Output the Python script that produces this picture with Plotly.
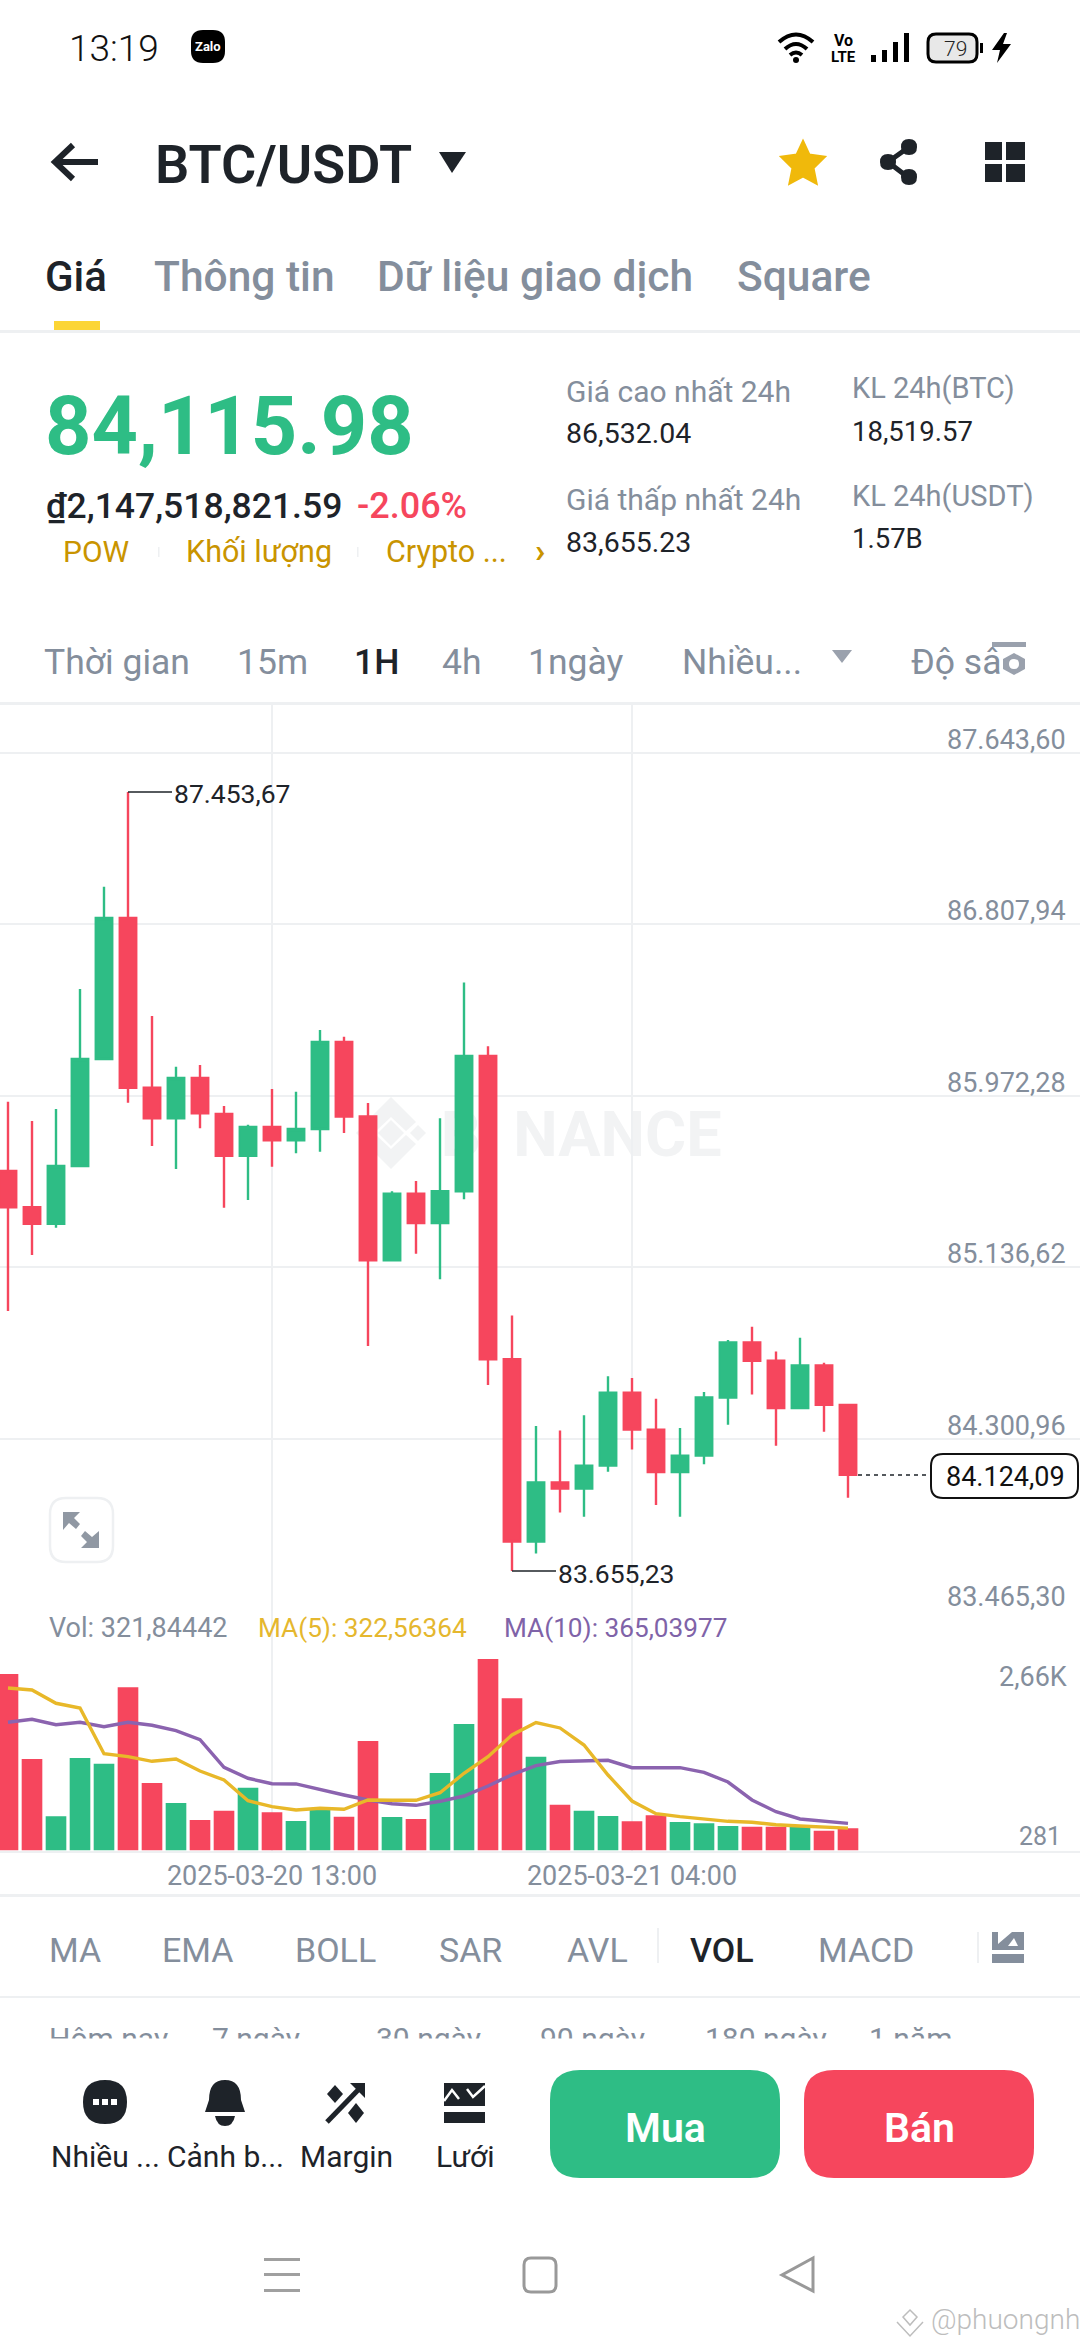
import re
import pandas as pd
import plotly.graph_objects as go

W, H = 1080, 2340
GREEN = "#2EBD85"
RED = "#F6465D"
DARK = "#1E2329"
GRAY = "#848E9C"
LINE = "#EEF0F2"
GOLD = "#C99400"
FONT = "Roboto"

# candles, hourly
first_time = "2025-03-20 02:00"
opens = [85605.6, 85428.7, 85348.7, 85630.0, 86151.7, 86839.1, 86011.8, 85862.6, 86059.1, 85883.5, 85680.2, 85820.2,
         85755.3, 85810.4, 86234.6, 85871.4, 85170.3, 85495.0, 85352.1, 85506.7, 86166.3, 84687.6, 83799.3, 84086.9,
         84057.2, 84169.3, 84524.3, 84344.8, 84137.6, 84218.1, 84501.3, 84769.5, 84680.8, 84450.2, 84657.9, 84465.3]
highs = [85943.5, 85849.4, 85907.9, 86493.0, 86991.8, 87453.67, 86361.3, 86114.2, 86122.4, 85922.6, 85831.4, 86005.4,
         85992.3, 86293.1, 86260.4, 85937.2, 85506.7, 85556.9, 85862.6, 86524.7, 86213.6, 84900.6, 84362.4, 84340.5,
         84414.6, 84604.7, 84596.4, 84495.0, 84353.1, 84528.7, 84782.2, 84846.0, 84725.1, 84792.9, 84670.5, 84469.7]
lows = [84923.1, 85196.1, 85329.2, 85630.0, 86151.7, 85938.6, 85727.5, 85615.4, 85813.8, 85426.7, 85464.3, 85626.6,
        85691.9, 85699.7, 85790.9, 84752.4, 85165.4, 85202.5, 85077.6, 85467.7, 84562.3, 83655.23, 83740.3, 83941.1,
        83919.7, 84139.6, 84247.3, 83977.2, 83919.7, 84175.7, 84368.2, 84516.0, 84266.3, 84450.2, 84334.1, 84012.8]
closes = [85428.7, 85348.7, 85630.0, 86151.7, 86839.1, 86011.8, 85862.6, 86059.1, 85887.0, 85680.2, 85820.2, 85755.3,
          85810.4, 86234.6, 85871.4, 85170.3, 85495.0, 85352.1, 85506.7, 86166.3, 84687.6, 83799.3, 84086.9, 84057.2,
          84169.3, 84524.3, 84344.8, 84137.6, 84218.1, 84501.3, 84769.5, 84680.8, 84450.2, 84657.9, 84465.3, 84124.09]

# volume panel
volumes = [2547, 1320, 493, 1335, 1253, 2355, 974, 685, 440, 574, 906, 551, 426, 584, 488, 1580, 483, 455,
           1118, 1825, 2763, 2196, 1354, 661, 574, 498, 421, 508, 411, 392, 354, 343, 343, 343, 286, 321.84]
ma5 = [2345, 2316, 2124, 2056, 1397, 1354, 1287, 1320, 1147, 1017, 719, 632, 584, 609, 595, 729, 724, 724,
       834, 1114, 1354, 1667, 1847, 1768, 1522, 1089, 714, 531, 488, 450, 421, 407, 372, 354, 335, 322.56]
ma10 = [1850, 1893, 1815, 1850, 1786, 1850, 1807, 1729, 1599, 1201, 1042, 964, 960, 877, 801, 729, 675, 652,
        710, 786, 931, 1094, 1224, 1284, 1291, 1302, 1195, 1190, 1195, 1128, 988, 729, 560, 455, 421, 392]

price_ticks = [87643.60, 86807.94, 85972.28, 85136.62, 84300.96, 83465.30]
price_labels = ["87.643,60", "86.807,94", "85.972,28", "85.136,62", "84.300,96", "83.465,30"]
time_ticks = ["2025-03-20 13:00", "2025-03-21 04:00"]
last_price = 84124.09

times = pd.date_range(first_time, periods=len(opens), freq="h")
vol_colors = [GREEN if c > o else RED for o, c in zip(opens, closes)]


def px(x):
    return x / W


def py(y):
    return 1 - y / H


def svg(d):
    # path written in screen pixels, turned into paper coordinates
    tokens = re.findall(r"[A-Za-z]|-?[\d.]+", d)
    out, is_x = [], True
    for t in tokens:
        if t.isalpha():
            out.append(t)
            is_x = True
        else:
            out.append(str(px(float(t))) if is_x else str(py(float(t))))
            is_x = not is_x
    return " ".join(out)


def round_rect(x0, y0, x1, y1, r):
    return (f"M {x0 + r} {y0} L {x1 - r} {y0} Q {x1} {y0} {x1} {y0 + r} L {x1} {y1 - r} Q {x1} {y1} {x1 - r} {y1} "
            f"L {x0 + r} {y1} Q {x0} {y1} {x0} {y1 - r} L {x0} {y0 + r} Q {x0} {y0} {x0 + r} {y0} Z")


shapes, notes = [], []


def fill(d, color=DARK, layer="above"):
    shapes.append(dict(type="path", xref="paper", yref="paper", path=svg(d), fillcolor=color,
                       line=dict(width=0), layer=layer))


def stroke(d, color=DARK, width=4, bg="rgba(0,0,0,0)", dash="solid", layer="above"):
    shapes.append(dict(type="path", xref="paper", yref="paper", path=svg(d), fillcolor=bg,
                       line=dict(color=color, width=width, dash=dash), layer=layer))


def text(x, base, s, size, color=DARK, anchor="left", weight=400):
    # base = baseline of the text in screen pixels, left side bearing taken off
    if anchor == "left":
        x = x - 0.06 * size
    notes.append(dict(xref="paper", yref="paper", x=px(x), y=py(base - 0.34 * size), text=s, showarrow=False,
                      xanchor=anchor, yanchor="middle", borderpad=0,
                      font=dict(family=FONT, size=size, color=color, weight=weight)))


# status bar
text(70, 61, "13:19", 37, "#111111", weight=300)
fill(round_rect(191, 30, 225, 63, 12), "#000000")
text(208, 51, "Zalo", 13, "#FFFFFF", "center", 700)
stroke("M 779 42 Q 796 27 813 42", "#000000", 4)
stroke("M 785 49 Q 796 39 807 49", "#000000", 4)
stroke("M 790 55 Q 796 50 802 55", "#000000", 4)
fill(round_rect(793, 57, 799, 63, 3), "#000000")
text(843, 46, "Vo", 16, "#000000", "center", 700)
text(843, 62, "LTE", 15, "#000000", "center", 700)
for x0, top in [(871, 55), (882, 50), (893, 42), (904, 33)]:
    fill(f"M {x0} {top} L {x0 + 5} {top} L {x0 + 5} 62 L {x0} 62 Z", "#000000")
stroke(round_rect(928, 34, 977, 62, 8), "#000000", 3, "#E8E8E8")
fill("M 980 43 L 983 43 L 983 53 L 980 53 Z", "#000000")
text(955, 56, "79", 21, "#222222", "center", 300)
fill("M 1004 33 L 992 50 L 1000 50 L 997 63 L 1011 44 L 1003 44 L 1007 33 Z", "#000000")

# header
stroke("M 55 162 L 98 162", DARK, 6)
stroke("M 73 145 L 55 162 L 73 179", DARK, 6)
text(157, 183, "BTC/USDT", 54, DARK, weight=600)
fill("M 439 152 L 466 152 L 452 173 Z")
shapes.append(dict(type="path", xref="paper", yref="paper", fillcolor="#F0B90B", line=dict(color="#F0B90B", width=3),
                   path=svg("M 803 142 L 809 155 L 824 157 L 813 168 L 816 183 L 803 176 L 790 183 L 793 168 L 782 157 L 797 155 Z")))
stroke("M 909 147 L 888 162 L 909 178", DARK, 5)
for cx, cy in [(909, 147), (888, 162), (909, 177)]:
    fill(round_rect(cx - 8, cy - 8, cx + 8, cy + 8, 8))
for x0, x1 in [(985, 1002), (1006, 1025)]:
    for y0, y1 in [(142, 160), (164, 182)]:
        fill(f"M {x0} {y0} L {x1} {y0} L {x1} {y1} L {x0} {y1} Z")

# tabs
text(47, 291, "Giá", 42, DARK, weight=500)
text(156, 291, "Thông tin", 42.5, GRAY, weight=500)
text(379, 291, "Dữ liệu giao dịch", 42.5, GRAY, weight=500)
text(739, 291, "Square", 42.5, GRAY, weight=500)
fill("M 54 321 L 100 321 L 100 330 L 54 330 Z", "#FCD535")
fill(f"M 0 330 L {W} 330 L {W} 333 L 0 333 Z", LINE)

# price block
text(49, 454, "84,115.98", 81, GREEN, weight=700)
text(47, 518, "₫2,147,518,821.59", 35.5, DARK, weight=500)
text(358, 518, "-2.06%", 36, RED, weight=500)
text(64, 562, "POW", 30, GOLD)
text(187, 562, "Khối lượng", 30.5, GOLD)
text(387, 562, "Crypto ...", 30.5, GOLD)
text(536, 562, "›", 34, GOLD, weight=700)
for x0 in (158, 357):
    fill(f"M {x0} 547 L {x0 + 1.5} 547 L {x0 + 1.5} 557 L {x0} 557 Z", LINE)
text(567, 402, "Giá cao nhất 24h", 30, GRAY)
text(567, 443, "86,532.04", 28.5, DARK)
text(567, 510, "Giá thấp nhất 24h", 30, GRAY)
text(567, 552, "83,655.23", 28.5, DARK)
text(853, 398, "KL 24h(BTC)", 29, GRAY)
text(853, 441, "18,519.57", 27.5, DARK)
text(853, 506, "KL 24h(USDT)", 29, GRAY)
text(853, 548, "1.57B", 27.5, DARK)

# time frame row
text(45, 674, "Thời gian", 35.5, GRAY)
text(238, 674, "15m", 35.5, GRAY)
text(355, 674, "1H", 35.5, DARK, weight=500)
text(443, 674, "4h", 35.5, GRAY)
text(529, 674, "1ngày", 35.5, GRAY)
text(683, 674, "Nhiều...", 35.5, GRAY)
fill("M 832 650 L 852 650 L 842 663 Z", "#9AA1AD")
text(912, 674, "Độ sâ", 35.5, GRAY)
fill("M 992 642 L 1026 642 L 1026 647 L 992 647 Z", "#9AA1AD")
fill("M 1014 653 L 1025 659 L 1025 669 L 1014 675 L 1003 669 L 1003 659 Z", "#9AA1AD")
fill(round_rect(1009, 659, 1019, 669, 5), "#FFFFFF")
fill(f"M 0 702 L {W} 702 L {W} 705 L 0 705 Z", LINE)

# logo and name behind the candles
WM = "#F2F3F4"
fill("M 391 1097 L 416 1122 L 406 1131 L 391 1117 L 376 1131 L 366 1122 Z", WM, "below")
fill("M 391 1169 L 416 1144 L 406 1135 L 391 1149 L 376 1135 L 366 1144 Z", WM, "below")
fill("M 391 1120 L 404 1133 L 391 1146 L 378 1133 Z", WM, "below")
fill("M 418 1125 L 426 1133 L 418 1141 L 410 1133 Z", WM, "below")
fill("M 364 1125 L 372 1133 L 364 1141 L 356 1133 Z", WM, "below")
for x0, x1, s in [(440, 500, "BI"), (507, 728, "NANCE")]:
    shapes.append(dict(type="rect", xref="paper", yref="paper", x0=px(x0), x1=px(x1), y0=py(1158), y1=py(1100),
                       line=dict(width=0), layer="below",
                       label=dict(text=f"<b>{s}</b>", textposition="middle center",
                                  font=dict(family=FONT, size=63, color=WM))))

# price axis labels
for val, lab in zip(price_ticks, price_labels):
    notes.append(dict(xref="paper", yref="y", x=px(1067), y=val, text=lab, showarrow=False, xanchor="right",
                      yanchor="bottom", yshift=-4, borderpad=0, font=dict(family=FONT, size=27, color=GRAY)))

# high and low markers
for t, val, lab in [(times[5], max(highs), "87.453,67"), (times[21], min(lows), "83.655,23")]:
    shapes.append(dict(type="line", xref="x", yref="y", xsizemode="pixel", xanchor=t, x0=0, x1=44, y0=val, y1=val,
                       line=dict(color=DARK, width=1.5)))
    notes.append(dict(x=t, y=val, xref="x", yref="y", text=lab, showarrow=False, xanchor="left", yanchor="middle",
                      xshift=45, yshift=-2, borderpad=0, font=dict(family=FONT, size=26.5, color=DARK)))

# last price line and pill
shapes.append(dict(type="line", xref="paper", yref="y", x0=px(858), x1=px(926), y0=last_price, y1=last_price,
                   line=dict(color=DARK, width=1.5, dash="4px,4px")))
stroke(round_rect(931, 1454, 1078, 1498, 12), "#111111", 2, "#FFFFFF")
notes.append(dict(xref="paper", yref="y", x=px(1066), y=last_price, text="84.124,09", showarrow=False, xanchor="right",
                  yanchor="middle", yshift=-2, borderpad=0, font=dict(family=FONT, size=27, color="#111111")))

# expand button
stroke(round_rect(50, 1498, 113, 1562, 16), LINE, 2.5, "#FFFFFF")
fill("M 63 1512 L 80 1512 L 74 1518 L 80 1524 L 76 1529 L 69 1523 L 63 1530 Z", "#9098A3")
fill("M 99 1548 L 81 1548 L 87 1542 L 81 1536 L 85 1531 L 92 1537 L 99 1531 Z", "#9098A3")

# volume panel texts
text(50, 1637, "Vol: 321,84442", 27, GRAY)
text(259, 1637, "MA(5): 322,56364", 26.2, "#E5B72E")
text(505, 1637, "MA(10): 365,03977", 26.2, "#7F63A8")
text(1068, 1686, "2,66K", 27, GRAY, "right")
text(1062, 1845, "281", 25, GRAY, "right")

# indicator row
fill(f"M 0 1894 L {W} 1894 L {W} 1897 L 0 1897 Z", LINE)
for x0, s in [(50, "MA"), (163, "EMA"), (296, "BOLL"), (440, "SAR"), (568, "AVL"), (819, "MACD")]:
    text(x0, 1962, s, 34, GRAY)
text(691, 1962, "VOL", 34, DARK, weight=500)
fill("M 657 1928 L 659 1928 L 659 1963 L 657 1963 Z", LINE)
fill("M 977 1932 L 979 1932 L 979 1963 L 977 1963 Z", LINE)
fill("M 992 1932 L 998 1932 L 998 1944 L 1012 1932 L 1024 1932 L 1024 1950 L 992 1950 Z", GRAY)
fill("M 1008 1946 L 1018 1946 L 1014 1938 Z", "#FFFFFF")
fill("M 992 1954 L 1024 1954 L 1024 1963 L 992 1963 Z", GRAY)
fill(f"M 0 1996 L {W} 1996 L {W} 1998 L 0 1998 Z", LINE)

# range row is cut off by the bottom bar
for x0, s in [(50, "Hôm nay"), (213, "7 ngày"), (377, "30 ngày"), (541, "90 ngày"), (706, "180 ngày"), (870, "1 năm")]:
    text(x0, 2049, s, 30, GRAY)
notes.append(dict(xref="paper", yref="paper", x=0.5, y=py(2054), text=" ", showarrow=False, width=W, height=28,
                  bgcolor="#FFFFFF", xanchor="center", yanchor="middle"))

# bottom bar
fill(round_rect(83, 2080, 127, 2124, 22))
for x0 in (93, 102, 111):
    fill(f"M {x0} 2099 L {x0 + 6} 2099 L {x0 + 6} 2105 L {x0} 2105 Z", "#FFFFFF")
fill("M 205 2112 L 209 2100 Q 209 2080 225 2080 Q 241 2080 241 2100 L 245 2112 Z")
fill("M 215 2116 L 235 2116 Q 233 2126 225 2126 Q 217 2126 215 2116 Z")
stroke("M 327 2122 L 360 2088", DARK, 5)
fill("M 350 2083 L 365 2083 L 365 2098 Z")
fill("M 335 2085 L 343 2094 L 335 2103 L 327 2094 Z")
fill("M 356 2103 L 364 2113 L 356 2123 L 348 2113 Z")
fill("M 444 2083 L 485 2083 L 485 2106 L 444 2106 Z")
stroke("M 444 2101 L 452 2090 L 459 2099", "#FFFFFF", 2.5)
stroke("M 467 2089 L 473 2097 L 485 2086", "#FFFFFF", 2.5)
fill("M 444 2112 L 485 2112 L 485 2123 L 444 2123 Z")
for x0, s in [(105, "Nhiều ..."), (225, "Cảnh b..."), (346, "Margin"), (465, "Lưới")]:
    text(x0, 2167, s, 30, DARK, "center")
fill(round_rect(550, 2070, 780, 2178, 30), GREEN)
fill(round_rect(804, 2070, 1034, 2178, 30), RED)
text(665, 2142, "Mua", 41, "#FFFFFF", "center", 600)
text(919, 2142, "Bán", 41, "#FFFFFF", "center", 600)

# navigation bar
for y0 in (2258, 2273, 2289):
    fill(f"M 264 {y0} L 300 {y0} L 300 {y0 + 3} L 264 {y0 + 3} Z", "#A0A0A0")
stroke(round_rect(524, 2258, 556, 2292, 7), "#999999", 3)
stroke("M 813 2258 L 782 2275 L 813 2291 Z", "#999999", 3)

# repost mark
stroke("M 897 2322 L 910 2336 L 923 2322", "#BDBDBD", 1.5)
stroke("M 903 2317 L 910 2310 L 917 2317 L 910 2325 Z", "#BDBDBD", 1.5)
text(932, 2329, "@phuongnha", 28, "#BDBDBD", weight=300)

fig = go.Figure()

fig.add_trace(go.Candlestick(x=times, open=opens, high=highs, low=lows, close=closes, whiskerwidth=0,
                             increasing=dict(fillcolor=GREEN, line=dict(color=GREEN, width=2.4)),
                             decreasing=dict(fillcolor=RED, line=dict(color=RED, width=2.4)),
                             xaxis="x", yaxis="y", showlegend=False, hoverinfo="skip"))
fig.add_trace(go.Bar(x=times, y=volumes, marker=dict(color=vol_colors, line=dict(width=0)), width=3096000,
                     xaxis="x2", yaxis="y2", showlegend=False, hoverinfo="skip"))
fig.add_trace(go.Scatter(x=times, y=ma10, mode="lines", line=dict(color="#8B63AF", width=3.4), xaxis="x2", yaxis="y2",
                         showlegend=False, hoverinfo="skip"))
fig.add_trace(go.Scatter(x=times, y=ma5, mode="lines", line=dict(color="#E8B829", width=3.4), xaxis="x2", yaxis="y2",
                         showlegend=False, hoverinfo="skip"))

x_range = ["2025-03-20 01:40", "2025-03-21 22:40"]
fig.update_layout(
    width=W, height=H, autosize=False, margin=dict(l=0, r=0, t=0, b=0), paper_bgcolor="white", plot_bgcolor="white",
    showlegend=False, hovermode=False, dragmode=False, boxgap=0.02, boxmode="overlay",
    shapes=shapes, annotations=notes,
    xaxis=dict(domain=[0, 1], range=x_range, anchor="y", type="date", rangeslider=dict(visible=False),
               tickvals=time_ticks, showticklabels=False, showgrid=True, gridcolor=LINE, gridwidth=1.5,
               ticks="", zeroline=False, showline=False),
    yaxis=dict(domain=[py(1610), py(703)], range=[83465.30, 87887.4], anchor="x", tickvals=price_ticks,
               showticklabels=False, showgrid=True, gridcolor=LINE, gridwidth=2, ticks="", zeroline=False),
    xaxis2=dict(domain=[0, 1], range=x_range, anchor="y2", type="date", tickvals=time_ticks, ticktext=time_ticks,
                showgrid=True, gridcolor=LINE, gridwidth=1.5, ticks="", zeroline=False, showline=True,
                linecolor=LINE, linewidth=2, tickfont=dict(family=FONT, size=27, color=GRAY)),
    yaxis2=dict(domain=[py(1850.5), py(1610)], range=[0, 3470], anchor="x2", showticklabels=False, showgrid=False,
                ticks="", zeroline=False),
)

fig.write_html("out.html", config=dict(displayModeBar=False),
               post_script="document.body.style.margin='0';document.body.style.overflow='hidden';")
